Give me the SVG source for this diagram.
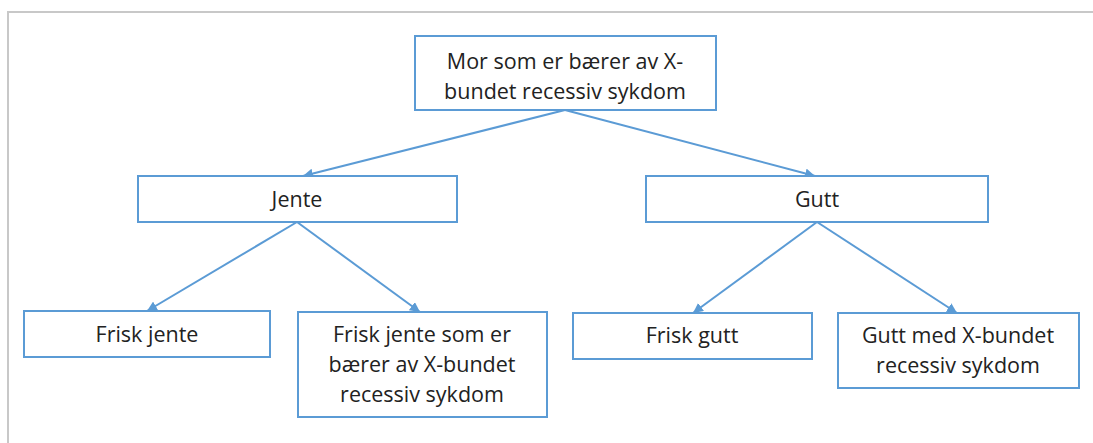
<svg xmlns="http://www.w3.org/2000/svg" width="1093" height="443" viewBox="0 0 1093 443">
<style>
.box{fill:#fff;stroke:#5b9bd5;stroke-width:2}
.t{font-family:"Open Sans","Liberation Sans",sans-serif;font-size:21.5px;fill:#222;text-anchor:middle}
.c{stroke:#5b9bd5;stroke-width:2;fill:none;marker-end:url(#ah)}
</style>
<defs>
<marker id="ah" viewBox="0 0 10 10" refX="10" refY="5" markerWidth="5" markerHeight="5" markerUnits="strokeWidth" orient="auto">
<path d="M0,0 L10,5 L0,10 z" fill="#5b9bd5"/>
</marker>
</defs>
<rect width="1093" height="443" fill="#fff"/>
<path d="M8,443 V12 H1093" fill="none" stroke="#c8c8c8" stroke-width="2"/>
<g id="connectors">
<line class="c" x1="565" y1="110" x2="303" y2="176"/>
<line class="c" x1="565" y1="110" x2="815" y2="176"/>
<line class="c" x1="297" y1="222" x2="147" y2="311"/>
<line class="c" x1="297" y1="222" x2="420" y2="312"/>
<line class="c" x1="817" y1="222" x2="693" y2="313"/>
<line class="c" x1="817" y1="222" x2="957" y2="313"/>
</g>
<g id="mor">
<rect class="box" x="415" y="36" width="301" height="74"/>
<text class="t" x="565" y="69">Mor som er bærer av X-</text>
<text class="t" x="565" y="99">bundet recessiv sykdom</text>
</g>
<g id="jente">
<rect class="box" x="138" y="176" width="319" height="46"/>
<text class="t" x="297" y="207">Jente</text>
</g>
<g id="gutt">
<rect class="box" x="646" y="176" width="342" height="46"/>
<text class="t" x="817" y="207">Gutt</text>
</g>
<g id="frisk-jente">
<rect class="box" x="24" y="311" width="246" height="46"/>
<text class="t" x="147" y="342">Frisk jente</text>
</g>
<g id="frisk-jente-baerer">
<rect class="box" x="298" y="312" width="249" height="105"/>
<text class="t" x="422" y="342">Frisk jente som er</text>
<text class="t" x="422" y="372">bærer av X-bundet</text>
<text class="t" x="422" y="402">recessiv sykdom</text>
</g>
<g id="frisk-gutt">
<rect class="box" x="573" y="313" width="239" height="46"/>
<text class="t" x="692" y="343">Frisk gutt</text>
</g>
<g id="gutt-syk">
<rect class="box" x="838" y="313" width="241" height="75"/>
<text class="t" x="958" y="343">Gutt med X-bundet</text>
<text class="t" x="958" y="373">recessiv sykdom</text>
</g>
</svg>
